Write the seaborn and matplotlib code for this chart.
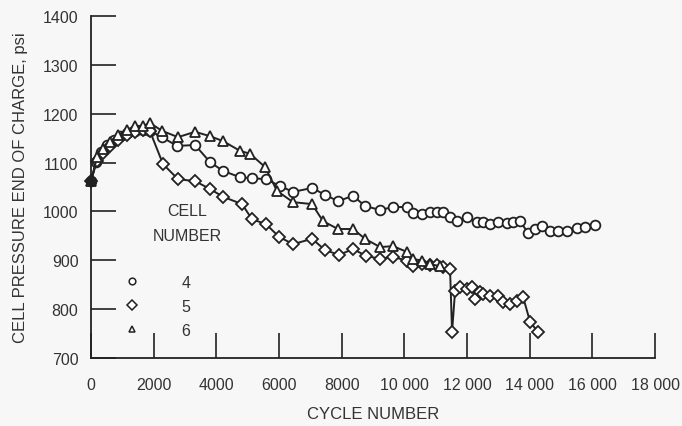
# Cell pressure at end of charge vs cycle number for cells 4, 5 and 6
import pandas as pd  # For building the long-form table
import matplotlib
matplotlib.use("Agg")
import matplotlib.pyplot as plt  # For the figure
from matplotlib.lines import Line2D  # For the legend handles
import seaborn as sns  # For the line plot

# --- data ---
cell4_cycles = [0, 160, 319, 511, 734, 926, 1149, 1404, 1660, 1883, 2266, 2745, 3320, 3798,
                4213, 4756, 5139, 5586, 6033, 6448, 7054, 7469, 7884, 8363, 8746, 9225,
                9640, 10087, 10278, 10566, 10821, 11044, 11236, 11459, 11682, 12002, 12321,
                12512, 12736, 12991, 13279, 13470, 13694, 13949, 14172, 14396, 14651, 14907,
                15194, 15513, 15769, 16088]
cell4_psi = [1062, 1101, 1122, 1136, 1146, 1154, 1160, 1165, 1167, 1165, 1152, 1134, 1136, 1101,
             1083, 1070, 1068, 1066, 1052, 1040, 1048, 1034, 1021, 1032, 1011, 1003,
             1009, 1009, 997, 995, 999, 999, 999, 989, 980, 989, 978,
             978, 974, 978, 976, 978, 980, 956, 964, 970, 960, 960,
             960, 966, 968, 972]

cell5_cycles = [0, 192, 383, 606, 862, 1149, 1404, 1660, 1883, 2298, 2777, 3320, 3798, 4213,
                4820, 5139, 5586, 6001, 6448, 7054, 7469, 7916, 8363, 8778, 9225, 9640,
                10087, 10278, 10566, 10821, 11044, 11236, 11459, 11523, 11619, 11779, 12002,
                12162, 12257, 12417, 12512, 12736, 12991, 13151, 13375, 13598, 13790, 14013,
                14268]
cell5_psi = [1062, 1104, 1120, 1134, 1146, 1156, 1162, 1166, 1164, 1097, 1066, 1062, 1046, 1030,
             1015, 984, 974, 948, 933, 944, 921, 911, 923, 909, 903, 907,
             899, 888, 892, 890, 890, 886, 882, 753, 837, 845, 841,
             845, 821, 835, 831, 827, 827, 815, 811, 817, 825, 774,
             753]

cell6_cycles = [0, 192, 383, 606, 862, 1149, 1404, 1660, 1883, 2266, 2777, 3320, 3798, 4213,
                4756, 5075, 5554, 5937, 6448, 7054, 7405, 7884, 8363, 8746, 9225, 9640,
                10087, 10278, 10566, 10821, 11140]
cell6_psi = [1062, 1111, 1128, 1142, 1156, 1167, 1175, 1175, 1181, 1165, 1152, 1163, 1154, 1144,
             1124, 1118, 1091, 1042, 1019, 1015, 980, 964, 964, 944, 927, 929,
             917, 903, 899, 892, 888]

cell_labels = ["4", "5", "6"]
x_ticks = [0, 2000, 4000, 6000, 8000, 10000, 12000, 14000, 16000, 18000]
x_tick_labels = ["0", "2000", "4000", "6000", "8000", "10 000", "12 000", "14 000", "16 000", "18 000"]
y_ticks = [700, 800, 900, 1000, 1100, 1200, 1300, 1400]

INK = "#222222"
TEXT = "#333333"
BG = "#f7f7f7"


def build_frame():
    """Stack the three cells into one long-form DataFrame."""
    parts = []
    for label, xs, ys in zip(cell_labels,
                             [cell4_cycles, cell5_cycles, cell6_cycles],
                             [cell4_psi, cell5_psi, cell6_psi]):
        parts.append(pd.DataFrame({"cycle": xs, "psi": ys, "cell": label}))
    return pd.concat(parts, ignore_index=True)


df = build_frame()

sns.set_style("ticks")
plt.rcParams["font.family"] = ["Liberation Sans", "DejaVu Sans"]

fig = plt.figure(figsize=(6.82, 4.27), dpi=100, facecolor=BG)
ax = fig.add_axes([91 / 682, 1 - 359 / 427, (655 - 91) / 682, (359 - 17) / 427])
ax.set_facecolor(BG)

markers = {"4": "o", "5": "D", "6": "^"}
sizes = {"4": 7, "5": 6.3, "6": 7}
palette = {k: INK for k in cell_labels}

# draw each cell separately so the marker sizes can differ a little
for label in cell_labels:
    sub = df[df["cell"] == label]
    sns.lineplot(data=sub, x="cycle", y="psi", hue="cell", style="cell",
                 markers=markers, dashes=False, palette=palette, estimator=None,
                 markersize=sizes[label], markerfacecolor="white",
                 markeredgecolor=INK, markeredgewidth=1.3, linewidth=1.4,
                 legend=False, ax=ax, clip_on=False, zorder=3)

# filled starting point shared by all cells
start = df[df["cycle"] == 0]
sns.scatterplot(data=start, x="cycle", y="psi", color=INK, s=50, edgecolor=INK,
                legend=False, ax=ax, clip_on=False, zorder=4)

ax.set_xlim(0, 18000)
ax.set_ylim(700, 1400)
ax.set_xticks(x_ticks)
ax.set_xticklabels(x_tick_labels)
ax.set_yticks(y_ticks)

sns.despine(ax=ax)
for side in ["left", "bottom"]:
    ax.spines[side].set_color(INK)
    ax.spines[side].set_linewidth(1.3)

ax.tick_params(axis="both", direction="in", length=18, width=1.2, color=INK,
               labelsize=11.5, labelcolor=TEXT)
ax.tick_params(axis="y", pad=9)
ax.tick_params(axis="x", pad=13.5)

ax.set_xlabel("CYCLE NUMBER", fontsize=12, color=TEXT, labelpad=10)
ax.set_ylabel("CELL PRESSURE END OF CHARGE, psi", fontsize=12, color=TEXT, labelpad=11)

# legend title as two centred lines
ax.text(0.170, 0.430, "CELL", transform=ax.transAxes, ha="center", va="center",
        fontsize=11.5, color=TEXT)
ax.text(0.170, 0.357, "NUMBER", transform=ax.transAxes, ha="center", va="center",
        fontsize=11.5, color=TEXT)

handles = [Line2D([], [], ls="none", marker=markers[k], markersize=4.8,
                  markerfacecolor="white", markeredgecolor=INK, markeredgewidth=1.1)
           for k in cell_labels]
leg = ax.legend(handles, cell_labels, loc="upper left", bbox_to_anchor=(0.0585, 0.244),
                frameon=False, fontsize=11.5, handlelength=1.0, handletextpad=2.6,
                labelspacing=0.58, borderpad=0, borderaxespad=0)
for t in leg.get_texts():
    t.set_color(TEXT)

fig.savefig("out.png", dpi=100, facecolor=BG)
